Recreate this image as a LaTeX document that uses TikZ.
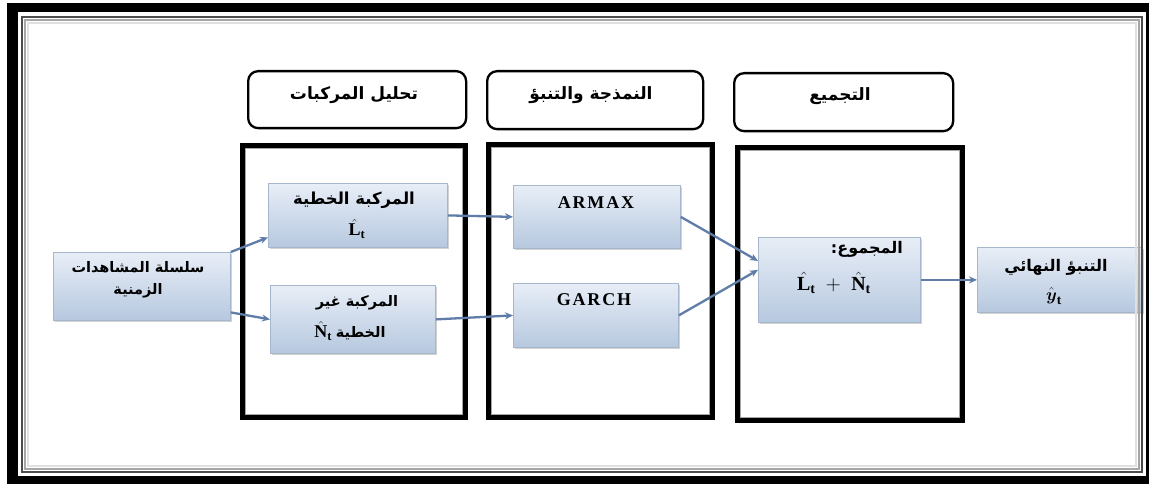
\documentclass[tikz,border=0pt]{standalone}
\usepackage{amsmath}
\usepackage{fontspec}
\setmainfont{Liberation Serif}
\newfontfamily\arabicfont[Script=Arabic]{DejaVu Sans}
\newfontfamily\latinsp[LetterSpace=10]{Liberation Serif}
\TeXXeTstate=1
\usetikzlibrary{shadows,arrows.meta,calc}
\newcommand{\ar}[1]{{\arabicfont\bfseries\beginR #1\endR}}
\definecolor{boxtop}{HTML}{E8EEF7}
\definecolor{boxbot}{HTML}{B6C8DF}
\definecolor{boxline}{HTML}{A7B7CB}
\definecolor{arrowc}{HTML}{5F7DA8}
\begin{document}
\begin{tikzpicture}[x=1pt,y=-1pt,
  bluebox/.style={draw=boxline, line width=0.8pt, top color=boxtop, bottom color=boxbot,
    drop shadow={shadow xshift=1.5pt,shadow yshift=-1.5pt,fill=black!35},
    inner sep=0pt, anchor=north west},
  colbox/.style={draw=black, line width=5pt, inner sep=0pt, anchor=north west},
  headbox/.style={draw=black, line width=2.3pt, rounded corners=10pt, inner sep=0pt, anchor=north west},
  txt/.style={inner sep=0pt},
  headtext/.style={font=\fontsize{17}{19}\selectfont, inner sep=0pt},
  modeltext/.style={font=\fontsize{18}{20}\selectfont\latinsp\bfseries, inner sep=0pt},
  flow/.style={draw=arrowc, line width=2.3pt, -{Stealth[length=8pt,width=7pt]}},
]
\useasboundingbox (0,0) rectangle (1149,484);
% outer frame background
\fill[black] (7,3) rectangle (1149,484);
\fill[white] (18,12) rectangle (1146,476);

% header boxes
\node[headbox, minimum width=218pt, minimum height=57pt] (h1) at (247,70) {};
\node[headbox, minimum width=216pt, minimum height=58pt] (h2) at (486,70) {};
\node[headbox, minimum width=219pt, minimum height=58pt] (h3) at (733,72) {};
\node[headtext] (h1t) at (354,95) {\ar{تحليل المركبات}};
\node[headtext] (h2t) at (591,95) {\ar{النمذجة والتنبؤ}};
\node[headtext] (h3t) at (840,96) {\ar{التجميع}};

% column boxes
\node[colbox, minimum width=223pt, minimum height=272pt] (c1) at (240,143) {};
\node[colbox, minimum width=224pt, minimum height=273pt] (c2) at (486,142) {};
\node[colbox, minimum width=225pt, minimum height=273pt] (c3) at (735,145) {};
\foreach \c in {c1,c2,c3}{
  \draw[black!35, line width=1.2pt] ([shift={(5.5pt,-5.5pt)}]\c.north west) rectangle ([shift={(-5.5pt,5.5pt)}]\c.south east);
}

% blue boxes
\node[bluebox, minimum width=177pt, minimum height=68pt] (in) at (53,252) {};
\node[bluebox, minimum width=179pt, minimum height=64pt] (lin) at (268,183) {};
\node[bluebox, minimum width=165pt, minimum height=68pt] (nl) at (270,285) {};
\node[bluebox, minimum width=167pt, minimum height=63pt] (armax) at (513,185) {};
\node[bluebox, minimum width=165pt, minimum height=64pt] (garch) at (513,283) {};
\node[bluebox, minimum width=162pt, minimum height=85pt] (sum) at (758,237) {};
\node[bluebox, minimum width=165pt, minimum height=65pt] (fin) at (977,247) {};

% texts
\node[txt, font=\fontsize{14.5}{16}\selectfont] (in1) at (138,267) {\ar{سلسلة المشاهدات}};
\node[txt, font=\fontsize{14.5}{16}\selectfont] (in2) at (138,291) {\ar{الزمنية}};
\node[txt, font=\fontsize{16.5}{18}\selectfont] (lin1) at (354,200) {\ar{المركبة الخطية}};
\node[txt, font=\fontsize{18}{20}\selectfont] (lin2) at (357,229) {$\hat{\mathbf{L}}_{\mathbf{t}}$};
\node[txt, font=\fontsize{14.5}{16}\selectfont] (nl1) at (357,303) {\ar{المركبة غير}};
\node[txt, font=\fontsize{14.5}{16}\selectfont] (nl2) at (350,331) {{\fontsize{18}{20}\selectfont$\hat{\mathbf{N}}_{\mathbf{t}}$}\ \ar{الخطية}};
\node[modeltext] (armaxt) at (596,203) {ARMAX};
\node[modeltext] (garcht) at (594,300) {GARCH};
\node[txt, font=\fontsize{16}{18}\selectfont, anchor=east] (sum1) at (903,249) {\ar{المجموع:}};
\node[txt, font=\fontsize{20}{22}\selectfont] (sum2) at (834,283) {$\hat{\mathbf{L}}_{\mathbf{t}}\;+\;\hat{\mathbf{N}}_{\mathbf{t}}$};
\node[txt, font=\fontsize{16}{18}\selectfont] (fin1) at (1056,267) {\ar{التنبؤ النهائي}};
\node[txt, font=\fontsize{19}{21}\selectfont] (fin2) at (1054,296) {$\hat{\boldsymbol{y}}_{\mathbf{t}}$};

% connectors
\draw[flow] (in.north east) -- ([yshift=-22pt]lin.west);
\draw[flow] ([yshift=-26pt]in.east) -- (nl.west);
\draw[flow] (lin.east) -- (armax.west);
\draw[flow] (nl.east) -- (garch.west);
\draw[flow] (armax.east) -- ([yshift=19pt]sum.west);
\draw[flow] (garch.east) -- ([yshift=10pt]sum.west);
\draw[flow] (sum.east) -- (fin.west);

% inner frame lines
\draw[black!70, line width=2.5pt] (22,17) rectangle (1142,472);
\draw[black!35, line width=2pt] (25,20) rectangle (1139,469);
\draw[black!12, line width=2pt] (28,23) rectangle (1136,466);
\end{tikzpicture}
\end{document}
